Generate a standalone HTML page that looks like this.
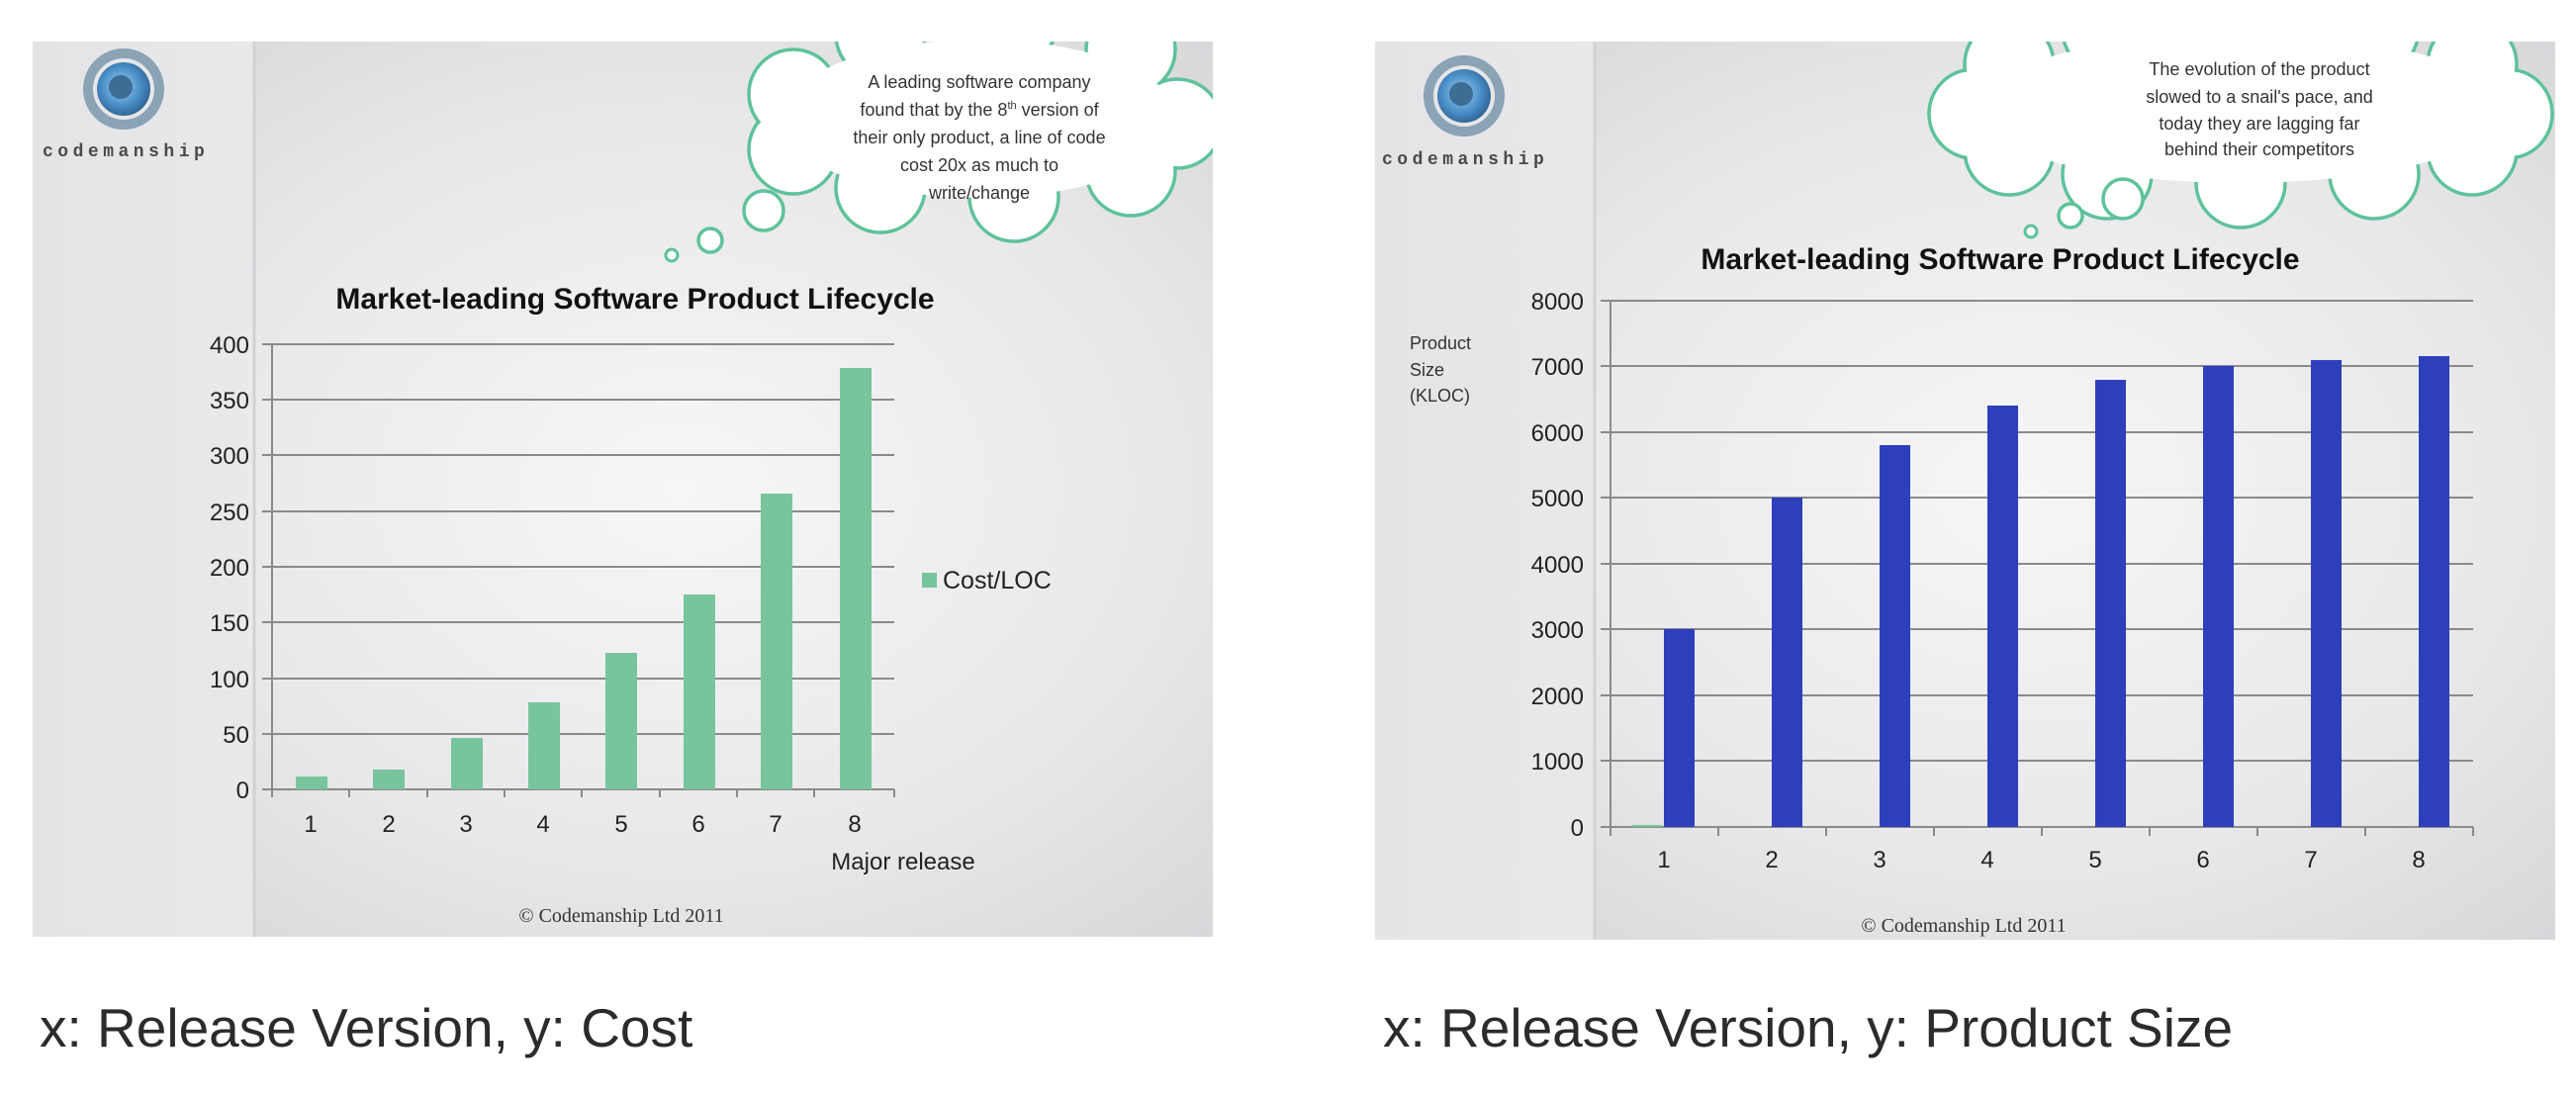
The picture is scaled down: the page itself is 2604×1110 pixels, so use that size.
<!DOCTYPE html>
<html><head><meta charset="utf-8"><style>
html,body{margin:0;padding:0;background:#fff;}
svg{display:block;}
</style></head><body>
<svg width="2604" height="1110" viewBox="0 0 2604 1110" xmlns="http://www.w3.org/2000/svg" font-family="Liberation Sans, sans-serif">
<defs>
<radialGradient id="bg" cx="0.55" cy="0.5" r="0.7">
<stop offset="0" stop-color="#f6f6f8"/><stop offset="0.6" stop-color="#e8e8ea"/><stop offset="1" stop-color="#d6d6d9"/>
</radialGradient>
<linearGradient id="strip" x1="0" x2="1" y1="0" y2="0">
<stop offset="0" stop-color="#e4e4e6"/><stop offset="1" stop-color="#e9e9eb"/>
</linearGradient>
<radialGradient id="logo" cx="0.45" cy="0.45" r="0.6">
<stop offset="0" stop-color="#9fd0f0"/><stop offset="0.6" stop-color="#4a8fc8"/><stop offset="1" stop-color="#2c5f8e"/>
</radialGradient>
<clipPath id="c1"><rect x="33" y="42" width="1193" height="905"/></clipPath>
<clipPath id="c2"><rect x="1390" y="42" width="1193" height="908"/></clipPath>
</defs>

<!-- LEFT PANEL -->
<g clip-path="url(#c1)">
<rect x="33" y="42" width="1193" height="905" fill="url(#bg)"/>
<rect x="33" y="42" width="224" height="905" fill="url(#strip)"/>
<line x1="257" y1="42" x2="257" y2="947" stroke="#d2d2d5" stroke-width="3"/>
<circle cx="125" cy="90" r="36" fill="none" stroke="#8aa3b5" stroke-width="10"/>
<circle cx="125" cy="90" r="27" fill="url(#logo)"/>
<circle cx="122" cy="88" r="12" fill="#3d6d95"/>
<text x="43" y="158" style="font-family:'Liberation Mono',monospace;font-weight:bold;font-size:18px;letter-spacing:4.5px" fill="#4a4a4a">codemanship</text>
<g stroke="#5ec29a" stroke-width="3.5" fill="#fff">
<circle cx="1190" cy="125" r="45"/><circle cx="1143" cy="173" r="45"/><circle cx="1025" cy="199" r="45"/>
<circle cx="890" cy="190" r="45"/><circle cx="802" cy="151" r="45"/><circle cx="802" cy="95" r="45"/>
<circle cx="890" cy="35" r="45"/><circle cx="1025" cy="20" r="45"/><circle cx="1143" cy="50" r="45"/>
</g>
<g fill="#fff">
<circle cx="1190" cy="125" r="43"/><circle cx="1143" cy="173" r="43"/><circle cx="1025" cy="199" r="43"/>
<circle cx="890" cy="190" r="43"/><circle cx="802" cy="151" r="43"/><circle cx="802" cy="95" r="43"/>
<circle cx="890" cy="35" r="43"/><circle cx="1025" cy="20" r="43"/><circle cx="1143" cy="50" r="43"/>
<ellipse cx="990" cy="120" rx="200" ry="80"/>
</g>
<circle cx="772" cy="213" r="20" fill="#fff" stroke="#5ec29a" stroke-width="3.5"/>
<circle cx="718" cy="243" r="12" fill="#fff" stroke="#5ec29a" stroke-width="3.5"/>
<circle cx="679" cy="258" r="6" fill="#fff" stroke="#5ec29a" stroke-width="3"/>
<g font-size="18" fill="#333" text-anchor="middle">
<text x="990" y="89">A leading software company</text>
<text x="990" y="117">found that by the 8<tspan font-size="11" dy="-7">th</tspan><tspan dy="7"> version of</tspan></text>
<text x="990" y="145">their only product, a line of code</text>
<text x="990" y="173">cost 20x as much to</text>
<text x="990" y="201">write/change</text>
</g>
<text x="642" y="312" font-size="30" font-weight="bold" fill="#111" text-anchor="middle">Market-leading Software Product Lifecycle</text>
<g stroke="#8a8a8a" stroke-width="2">
<line x1="265" y1="348" x2="904" y2="348"/><line x1="265" y1="404" x2="904" y2="404"/>
<line x1="265" y1="460" x2="904" y2="460"/><line x1="265" y1="517" x2="904" y2="517"/>
<line x1="265" y1="573" x2="904" y2="573"/><line x1="265" y1="629" x2="904" y2="629"/>
<line x1="265" y1="686" x2="904" y2="686"/><line x1="265" y1="742" x2="904" y2="742"/>
<line x1="265" y1="798" x2="904" y2="798"/>
<line x1="275" y1="348" x2="275" y2="806"/>
<line x1="353" y1="798" x2="353" y2="806"/><line x1="432" y1="798" x2="432" y2="806"/>
<line x1="510" y1="798" x2="510" y2="806"/><line x1="588" y1="798" x2="588" y2="806"/>
<line x1="667" y1="798" x2="667" y2="806"/><line x1="745" y1="798" x2="745" y2="806"/>
<line x1="823" y1="798" x2="823" y2="806"/><line x1="904" y1="798" x2="904" y2="806"/>
</g>
<g fill="#78c49d">
<rect x="299" y="785" width="32" height="13"/><rect x="377" y="778" width="32" height="20"/>
<rect x="456" y="746" width="32" height="52"/><rect x="534" y="710" width="32" height="88"/>
<rect x="612" y="660" width="32" height="138"/><rect x="691" y="601" width="32" height="197"/>
<rect x="769" y="499" width="32" height="299"/><rect x="849" y="372" width="32" height="426"/>
</g>
<g font-size="24" fill="#222" text-anchor="end">
<text x="252" y="357">400</text><text x="252" y="413">350</text><text x="252" y="469">300</text>
<text x="252" y="526">250</text><text x="252" y="582">200</text><text x="252" y="638">150</text>
<text x="252" y="695">100</text><text x="252" y="751">50</text><text x="252" y="807">0</text>
</g>
<g font-size="24" fill="#222" text-anchor="middle">
<text x="314" y="841">1</text><text x="393" y="841">2</text><text x="471" y="841">3</text>
<text x="549" y="841">4</text><text x="628" y="841">5</text><text x="706" y="841">6</text>
<text x="784" y="841">7</text><text x="864" y="841">8</text>
<text x="913" y="879">Major release</text>
</g>
<rect x="932" y="579" width="15" height="15" fill="#78c49d"/>
<text x="953" y="595" font-size="25" fill="#222">Cost/LOC</text>
<text x="628" y="932" style="font-family:'Liberation Serif',serif;font-size:20px" fill="#333" text-anchor="middle">© Codemanship Ltd 2011</text>
</g>

<!-- RIGHT PANEL -->
<g clip-path="url(#c2)">
<rect x="1390" y="42" width="1193" height="908" fill="url(#bg)"/>
<rect x="1390" y="42" width="222" height="908" fill="url(#strip)"/>
<line x1="1612" y1="42" x2="1612" y2="950" stroke="#d2d2d5" stroke-width="3"/>
<circle cx="1480" cy="97" r="36" fill="none" stroke="#8aa3b5" stroke-width="10"/>
<circle cx="1480" cy="97" r="27" fill="url(#logo)"/>
<circle cx="1477" cy="95" r="12" fill="#3d6d95"/>
<text x="1397" y="166" style="font-family:'Liberation Mono',monospace;font-weight:bold;font-size:18px;letter-spacing:4.5px" fill="#4a4a4a">codemanship</text>
<g stroke="#5ec29a" stroke-width="3.5" fill="#fff">
<circle cx="2535" cy="115" r="45"/><circle cx="2499" cy="152" r="45"/><circle cx="2400" cy="176" r="45"/>
<circle cx="2265" cy="185" r="45"/><circle cx="2130" cy="176" r="45"/><circle cx="2031" cy="152" r="45"/>
<circle cx="1995" cy="115" r="45"/><circle cx="2031" cy="65" r="45"/><circle cx="2130" cy="30" r="45"/>
<circle cx="2265" cy="20" r="45"/><circle cx="2400" cy="30" r="45"/><circle cx="2499" cy="65" r="45"/>
</g>
<g fill="#fff">
<circle cx="2535" cy="115" r="43"/><circle cx="2499" cy="152" r="43"/><circle cx="2400" cy="176" r="43"/>
<circle cx="2265" cy="185" r="43"/><circle cx="2130" cy="176" r="43"/><circle cx="2031" cy="152" r="43"/>
<circle cx="1995" cy="115" r="43"/><circle cx="2031" cy="65" r="43"/><circle cx="2130" cy="30" r="43"/>
<circle cx="2265" cy="20" r="43"/><circle cx="2400" cy="30" r="43"/><circle cx="2499" cy="65" r="43"/>
<ellipse cx="2265" cy="110" rx="270" ry="75"/>
</g>
<circle cx="2146" cy="201" r="20" fill="#fff" stroke="#5ec29a" stroke-width="3.5"/>
<circle cx="2093" cy="218" r="12" fill="#fff" stroke="#5ec29a" stroke-width="3.5"/>
<circle cx="2053" cy="234" r="6" fill="#fff" stroke="#5ec29a" stroke-width="3"/>
<g font-size="18" fill="#333" text-anchor="middle">
<text x="2284" y="76">The evolution of the product</text>
<text x="2284" y="104">slowed to a snail's pace, and</text>
<text x="2284" y="131">today they are lagging far</text>
<text x="2284" y="157">behind their competitors</text>
</g>
<text x="2022" y="272" font-size="30" font-weight="bold" fill="#111" text-anchor="middle">Market-leading Software Product Lifecycle</text>
<g stroke="#8a8a8a" stroke-width="2">
<line x1="1618" y1="304" x2="2500" y2="304"/><line x1="1618" y1="370" x2="2500" y2="370"/>
<line x1="1618" y1="437" x2="2500" y2="437"/><line x1="1618" y1="503" x2="2500" y2="503"/>
<line x1="1618" y1="570" x2="2500" y2="570"/><line x1="1618" y1="636" x2="2500" y2="636"/>
<line x1="1618" y1="703" x2="2500" y2="703"/><line x1="1618" y1="769" x2="2500" y2="769"/>
<line x1="1618" y1="836" x2="2500" y2="836"/>
<line x1="1628" y1="304" x2="1628" y2="845"/>
<line x1="1737" y1="836" x2="1737" y2="845"/><line x1="1846" y1="836" x2="1846" y2="845"/>
<line x1="1955" y1="836" x2="1955" y2="845"/><line x1="2064" y1="836" x2="2064" y2="845"/>
<line x1="2173" y1="836" x2="2173" y2="845"/><line x1="2282" y1="836" x2="2282" y2="845"/>
<line x1="2391" y1="836" x2="2391" y2="845"/><line x1="2500" y1="836" x2="2500" y2="845"/>
</g>
<line x1="1650" y1="835" x2="1680" y2="835" stroke="#78c49d" stroke-width="2"/>
<g fill="#2e3fbb">
<rect x="1682" y="636" width="31" height="200"/><rect x="1791" y="503" width="31" height="333"/>
<rect x="1900" y="450" width="31" height="386"/><rect x="2009" y="410" width="31" height="426"/>
<rect x="2118" y="384" width="31" height="452"/><rect x="2227" y="370" width="31" height="466"/>
<rect x="2336" y="364" width="31" height="472"/><rect x="2445" y="360" width="31" height="476"/>
</g>
<g font-size="24" fill="#222" text-anchor="end">
<text x="1601" y="313">8000</text><text x="1601" y="379">7000</text><text x="1601" y="446">6000</text>
<text x="1601" y="512">5000</text><text x="1601" y="579">4000</text><text x="1601" y="645">3000</text>
<text x="1601" y="712">2000</text><text x="1601" y="778">1000</text><text x="1601" y="845">0</text>
</g>
<g font-size="18" fill="#333">
<text x="1425" y="353">Product</text><text x="1425" y="380">Size</text><text x="1425" y="406">(KLOC)</text>
</g>
<g font-size="24" fill="#222" text-anchor="middle">
<text x="1682" y="877">1</text><text x="1791" y="877">2</text><text x="1900" y="877">3</text>
<text x="2009" y="877">4</text><text x="2118" y="877">5</text><text x="2227" y="877">6</text>
<text x="2336" y="877">7</text><text x="2445" y="877">8</text>
</g>
<text x="1985" y="942" style="font-family:'Liberation Serif',serif;font-size:20px" fill="#333" text-anchor="middle">© Codemanship Ltd 2011</text>
</g>

<text x="40" y="1058" font-size="55" fill="#2b2b2b">x: Release Version, y: Cost</text>
<text x="1398" y="1058" font-size="55" fill="#2b2b2b">x: Release Version, y: Product Size</text>
</svg>
</body></html>
